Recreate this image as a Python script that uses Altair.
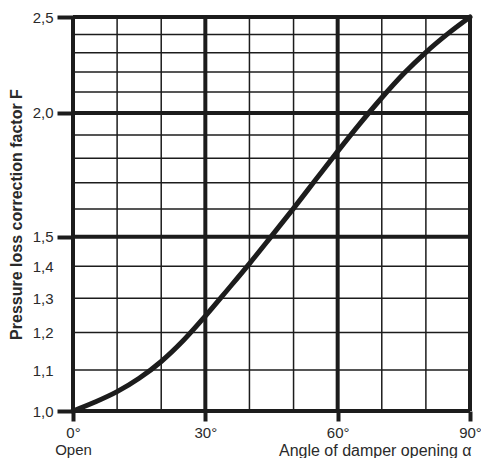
import altair as alt
import pandas as pd

# curve (every 5 degrees)
angle = [0, 5, 10, 15, 20, 25, 30, 35, 40, 45, 50, 55, 60, 65, 70, 75, 80, 85, 90]
factor = [1.0, 1.021, 1.046, 1.079, 1.122, 1.178, 1.247, 1.325, 1.409, 1.502, 1.602,
          1.712, 1.829, 1.950, 2.072, 2.192, 2.303, 2.405, 2.5]

x_thin = [10, 20, 40, 50, 70, 80]
x_thick = [0, 30, 60, 90]
y_thin = [1.1, 1.2, 1.3, 1.4, 1.6, 1.7, 1.8, 1.9, 2.1, 2.2, 2.3, 2.4]
y_thick = [1.0, 1.5, 2.0, 2.5]
y_labels = [1.0, 1.1, 1.2, 1.3, 1.4, 1.5, 2.0, 2.5]
x_labels = [0, 30, 60, 90]

INK = "#1c1c1c"
TXT = "#2a2a2a"
FONT = "Liberation Sans"

xs = alt.Scale(domain=[0, 90], nice=False, zero=False)
ys = alt.Scale(type="log", domain=[1.0, 2.5], nice=False)

curve_df = pd.DataFrame({"a": angle, "f": factor})

xaxis = alt.Axis(
    values=x_labels, labelExpr="datum.value == 0 ? ['0°', 'Open'] : datum.value + '°'",
    grid=False, domain=False, ticks=True, tickSize=10, tickWidth=4, tickColor=INK,
    labelFont=FONT, labelFontSize=15, labelColor=TXT, labelPadding=4, labelLineHeight=17,
    labelFlush=False,
    title="Angle of damper opening α", titleFont=FONT, titleFontSize=16, titleFontWeight="normal",
    titleColor=TXT, titleAnchor="end", titleAlign="right", titleX=398, titleY=39,
    titleBaseline="middle",
)
yaxis = alt.Axis(
    values=y_labels, labelExpr="replace(format(datum.value, '.1f'), '.', ',')",
    grid=False, domain=False, ticks=True, tickSize=16, tickWidth=4, tickColor=INK,
    tickOpacity={"condition": {"test": "indexof([1, 1.5, 2, 2.5], datum.value) >= 0", "value": 1}, "value": 0},
    labelFont=FONT, labelFontSize=15, labelColor=TXT, labelPadding=4,
    title="Pressure loss correction factor F", titleFont=FONT, titleFontSize=16,
    titleFontWeight="bold", titleColor=TXT, titleAngle=270, titleX=-57, titleY=197,
    titleBaseline="middle", titleAlign="center",
)

curve = alt.Chart(curve_df).mark_line(
    color=INK, strokeWidth=5, interpolate="monotone", strokeCap="round"
).encode(
    x=alt.X("a:Q", scale=xs, axis=xaxis),
    y=alt.Y("f:Q", scale=ys, axis=yaxis),
)

vthin = alt.Chart(pd.DataFrame({"x": x_thin})).mark_rule(color=INK, strokeWidth=1.5).encode(
    x=alt.X("x:Q", scale=xs))
hthin = alt.Chart(pd.DataFrame({"y": y_thin})).mark_rule(color=INK, strokeWidth=1.5).encode(
    y=alt.Y("y:Q", scale=ys))
vthick = alt.Chart(pd.DataFrame({"x": x_thick})).mark_rule(color=INK, strokeWidth=4).encode(
    x=alt.X("x:Q", scale=xs))
hthick = alt.Chart(pd.DataFrame({"y": y_thick})).mark_rule(color=INK, strokeWidth=4).encode(
    y=alt.Y("y:Q", scale=ys))

chart = alt.layer(vthin, hthin, vthick, hthick, curve).properties(
    width=397, height=394,
    autosize=alt.AutoSizeParams(type="none"),
    padding={"left": 65, "top": 9, "right": 11, "bottom": 47},
).configure_view(stroke=None).configure(background="white")

chart.save("out.html", embed_options={"renderer": "svg", "actions": False})
